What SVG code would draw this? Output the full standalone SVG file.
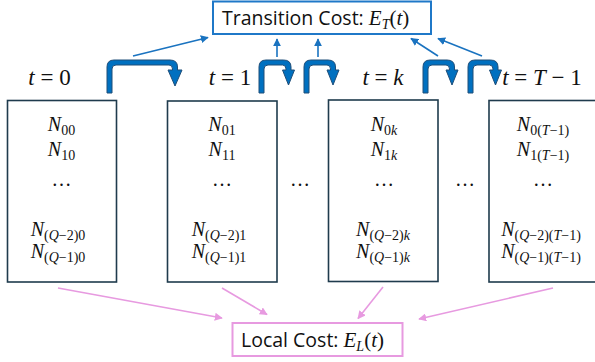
<svg xmlns="http://www.w3.org/2000/svg" width="595" height="362" viewBox="0 0 595 362">
<style>
.bg{fill:#ffffff}
.box{fill:#ffffff;stroke:#1f3b4d;stroke-width:1.6}
.math{font-family:"Liberation Serif","DejaVu Serif",serif;font-size:20px;fill:#111}
.it{font-style:italic}
.sub{font-size:14px}
.lbl{font-family:"Liberation Serif","DejaVu Serif",serif;font-size:23px;fill:#111}
.sans{font-family:"Open Sans","Liberation Sans",sans-serif;font-size:19.5px;fill:#111}
.bm{font-family:"Liberation Serif","DejaVu Serif",serif;font-size:21px}
.bs{font-family:"Liberation Serif","DejaVu Serif",serif;font-size:14px;font-style:italic}
.bent{fill:#0070c0;stroke:#1f4e79;stroke-width:1}
.blue{stroke:#1a73c0;stroke-width:1.6;fill:none;marker-end:url(#ab)}
.pink{stroke:#e79ae0;stroke-width:1.6;fill:none;marker-end:url(#ap)}
</style>
<defs>
<marker id="ab" viewBox="0 0 10 10" refX="9" refY="5" markerWidth="5" markerHeight="5" orient="auto" markerUnits="strokeWidth">
<path d="M0,0 L10,5 L0,10 Z" fill="#1a73c0"/>
</marker>
<marker id="ap" viewBox="0 0 10 10" refX="9" refY="5" markerWidth="5" markerHeight="5" orient="auto" markerUnits="strokeWidth">
<path d="M0,0 L10,5 L0,10 Z" fill="#e79ae0"/>
</marker>
</defs>
<rect class="bg" x="0" y="0" width="595" height="362"/>

<g id="transition-cost">
<rect x="213" y="1.5" width="218" height="32.5" fill="#fff" stroke="#1f78c8" stroke-width="2"/>
<text x="222" y="25" class="sans">Transition Cost: <tspan class="bm" font-style="italic">E</tspan><tspan class="bs" dy="4">T</tspan><tspan class="bm" dy="-4">(</tspan><tspan class="bm" font-style="italic">t</tspan><tspan class="bm">)</tspan></text>
</g>

<g id="local-cost">
<rect x="232.5" y="323" width="170" height="33" fill="#fff" stroke="#e79ae0" stroke-width="2"/>
<text x="241" y="347" class="sans">Local Cost: <tspan class="bm" font-style="italic">E</tspan><tspan class="bs" dy="4">L</tspan><tspan class="bm" dy="-4">(</tspan><tspan class="bm" font-style="italic">t</tspan><tspan class="bm">)</tspan></text>
</g>

<g id="label-t0"><text x="49.5" y="85" text-anchor="middle" class="lbl"><tspan class="it">t</tspan> = 0</text></g>
<g id="label-t1"><text x="230" y="85" text-anchor="middle" class="lbl"><tspan class="it">t</tspan> = 1</text></g>
<g id="label-tk"><text x="383" y="85" text-anchor="middle" class="lbl"><tspan class="it">t</tspan> = <tspan class="it">k</tspan></text></g>
<g id="label-tT"><text x="542" y="85" text-anchor="middle" class="lbl"><tspan class="it">t</tspan> = <tspan class="it">T</tspan> − 1</text></g>

<g id="bent-arrows">
<path class="bent" d="M107,93 V67 Q107,60 114,60 H170 Q177.5,60 177.5,67 V70 H182 L175,86 L168,70 H172.5 V69 Q172.5,65 169,65 H116 Q112,65 112,69 V93 Z"/>
<path class="bent" d="M259,93 V67 Q259,60 266,60 H283.5 Q291,60 291,67 V70 H294.5 L288.5,85 L282.5,70 H286 V69 Q286,65 282.5,65 H268 Q264,65 264,69 V93 Z"/>
<path class="bent" d="M304,93 V67 Q304,60 311,60 H328 Q335.5,60 335.5,67 V70 H339 L333,85 L327,70 H330.5 V69 Q330.5,65 327,65 H313 Q309,65 309,69 V93 Z"/>
<path class="bent" d="M423,93 V67 Q423,60 430,60 H447 Q454.5,60 454.5,67 V70 H458 L452,85 L446,70 H449.5 V69 Q449.5,65 446,65 H432 Q428,65 428,69 V93 Z"/>
<path class="bent" d="M468,93 V67 Q468,60 475,60 H490.5 Q498,60 498,67 V70 H501.5 L495.5,85 L489.5,70 H493 V69 Q493,65 489.5,65 H477 Q473,65 473,69 V93 Z"/>
</g>

<g id="col-0">
<rect class="box" x="7.5" y="100.5" width="109" height="181.5"/>
<text x="61.5" y="131" text-anchor="middle" class="math"><tspan class="it">N</tspan><tspan class="sub" dy="4">00</tspan></text>
<text x="61.5" y="156" text-anchor="middle" class="math"><tspan class="it">N</tspan><tspan class="sub" dy="4">10</tspan></text>
<text x="61.5" y="186" text-anchor="middle" class="math">…</text>
<text x="58" y="236" text-anchor="middle" class="math"><tspan class="it">N</tspan><tspan class="sub" dy="4">(<tspan class="it">Q</tspan>−2)0</tspan></text>
<text x="58" y="258" text-anchor="middle" class="math"><tspan class="it">N</tspan><tspan class="sub" dy="4">(<tspan class="it">Q</tspan>−1)0</tspan></text>
</g>

<g id="col-1">
<rect class="box" x="167.5" y="101" width="109.5" height="181"/>
<text x="222" y="131" text-anchor="middle" class="math"><tspan class="it">N</tspan><tspan class="sub" dy="4">01</tspan></text>
<text x="222" y="156" text-anchor="middle" class="math"><tspan class="it">N</tspan><tspan class="sub" dy="4">11</tspan></text>
<text x="222" y="186" text-anchor="middle" class="math">…</text>
<text x="219" y="236" text-anchor="middle" class="math"><tspan class="it">N</tspan><tspan class="sub" dy="4">(<tspan class="it">Q</tspan>−2)1</tspan></text>
<text x="219" y="258" text-anchor="middle" class="math"><tspan class="it">N</tspan><tspan class="sub" dy="4">(<tspan class="it">Q</tspan>−1)1</tspan></text>
</g>

<g id="col-k">
<rect class="box" x="328.5" y="100" width="109.5" height="181.5"/>
<text x="384" y="131" text-anchor="middle" class="math"><tspan class="it">N</tspan><tspan class="sub" dy="4">0<tspan class="it">k</tspan></tspan></text>
<text x="384" y="156" text-anchor="middle" class="math"><tspan class="it">N</tspan><tspan class="sub" dy="4">1<tspan class="it">k</tspan></tspan></text>
<text x="384" y="186" text-anchor="middle" class="math">…</text>
<text x="383" y="236" text-anchor="middle" class="math"><tspan class="it">N</tspan><tspan class="sub" dy="4">(<tspan class="it">Q</tspan>−2)<tspan class="it">k</tspan></tspan></text>
<text x="383" y="258" text-anchor="middle" class="math"><tspan class="it">N</tspan><tspan class="sub" dy="4">(<tspan class="it">Q</tspan>−1)<tspan class="it">k</tspan></tspan></text>
</g>

<g id="col-T1">
<rect class="box" x="489" y="100.5" width="112" height="181.5"/>
<text x="543" y="131" text-anchor="middle" class="math"><tspan class="it">N</tspan><tspan class="sub" dy="4">0(<tspan class="it">T</tspan>−1)</tspan></text>
<text x="543" y="156" text-anchor="middle" class="math"><tspan class="it">N</tspan><tspan class="sub" dy="4">1(<tspan class="it">T</tspan>−1)</tspan></text>
<text x="543" y="186" text-anchor="middle" class="math">…</text>
<text x="541" y="236" text-anchor="middle" class="math"><tspan class="it">N</tspan><tspan class="sub" dy="4">(<tspan class="it">Q</tspan>−2)(<tspan class="it">T</tspan>−1)</tspan></text>
<text x="541" y="258" text-anchor="middle" class="math"><tspan class="it">N</tspan><tspan class="sub" dy="4">(<tspan class="it">Q</tspan>−1)(<tspan class="it">T</tspan>−1)</tspan></text>
</g>

<g id="gap-dots">
<text x="300" y="186" text-anchor="middle" class="math">…</text>
<text x="465" y="186" text-anchor="middle" class="math">…</text>
</g>

<g id="connectors">
<line class="blue" x1="133" y1="56" x2="208" y2="37.5"/>
<line class="blue" x1="277" y1="57" x2="277" y2="39"/>
<line class="blue" x1="318" y1="57" x2="318" y2="39"/>
<line class="blue" x1="438" y1="56" x2="411" y2="38.5"/>
<line class="blue" x1="482" y1="56" x2="438" y2="38.5"/>
<line class="pink" x1="58" y1="288" x2="222" y2="318"/>
<line class="pink" x1="222" y1="288" x2="267" y2="314.5"/>
<line class="pink" x1="383" y1="287" x2="358" y2="318.5"/>
<line class="pink" x1="553" y1="288" x2="419" y2="319"/>
</g>
</svg>
